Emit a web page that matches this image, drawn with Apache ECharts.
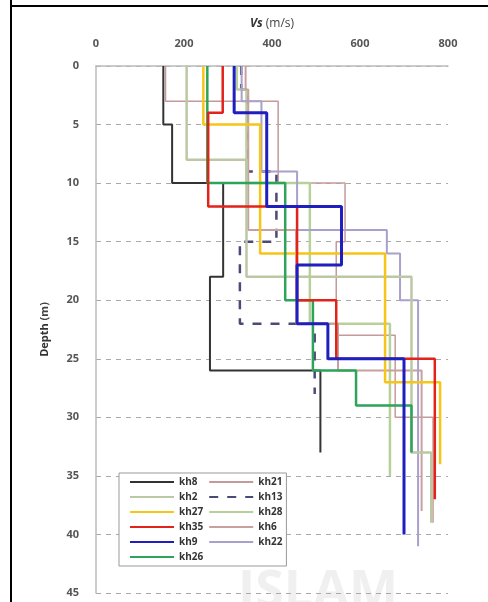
<!DOCTYPE html>
<html>
<head>
<meta charset="utf-8">
<script src="https://cdn.jsdelivr.net/npm/echarts@6/dist/echarts.min.js"></script>
<style>
  html, body { margin: 0; padding: 0; background: #fff; }
  #chart { width: 488px; height: 602px; }
</style>
</head>
<body>
<div id="chart"></div>
<script>
// Vs profiles: [Vs (m/s), depth (m)] step points
var kh8 = [[153, 0], [153, 5], [173, 5], [173, 10], [289, 10], [289, 18], [259, 18], [259, 26], [510, 26], [510, 33]];
var kh2 = [[206, 0], [206, 8], [342, 8], [342, 18], [717, 18], [717, 33], [762, 33], [762, 39]];
var kh27 = [[244, 0], [244, 5], [373, 5], [373, 16], [657, 16], [657, 27], [782, 27], [782, 34]];
var kh35 = [[288, 0], [288, 4], [255, 4], [255, 12], [457, 12], [457, 20], [546, 20], [546, 25], [770, 25], [770, 37]];
var kh9 = [[314, 0], [314, 4], [388, 4], [388, 12], [558, 12], [558, 17], [457, 17], [457, 22], [527, 22], [527, 25], [700, 25], [700, 40]];
var kh26 = [[253, 0], [253, 10], [430, 10], [430, 20], [493, 20], [493, 26], [591, 26], [591, 29], [717, 29], [717, 33]];
var kh21 = [[158, 0], [158, 3], [414, 3], [414, 10], [566, 10], [566, 15], [546, 15], [546, 23], [680, 23], [680, 30], [766, 30], [766, 39]];
var kh13 = [[330, 0], [330, 2], [345, 2], [345, 9], [410, 9], [410, 15], [327, 15], [327, 22], [497, 22], [497, 28]];
var kh28 = [[320, 0], [320, 2], [342, 2], [342, 10], [486, 10], [486, 22], [668, 22], [668, 35]];
var kh6 = [[340, 0], [340, 2], [346, 2], [346, 14], [455, 14], [455, 22], [550, 22], [550, 26], [740, 26], [740, 38]];
var kh22 = [[331, 0], [331, 3], [376, 3], [376, 9], [457, 9], [457, 14], [661, 14], [661, 16], [691, 16], [691, 20], [732, 20], [732, 41]];

var names = ["kh8", "kh2", "kh27", "kh35", "kh9", "kh26", "kh21", "kh13", "kh28", "kh6", "kh22"];
var profiles = [kh8, kh2, kh27, kh35, kh9, kh26, kh21, kh13, kh28, kh6, kh22];
var colors = ["#333333", "#bcc8a4", "#f5c518", "#e2231a", "#1f1fbf", "#2ea35a", "#c49a9a", "#4a4a78", "#b8d19a", "#c9a0a0", "#a9a0cc"];
var widths = [2, 2.5, 2.5, 2.5, 3, 2.5, 1.5, 2.5, 2.5, 2, 2];

var font = "'Open Sans', 'Liberation Sans', sans-serif";
var myChart = echarts.init(document.getElementById("chart"));

var series = names.map(function (n, i) {
  return {
    name: n,
    type: "line",
    data: profiles[i],
    symbol: "none",
    z: 10 - (i > 5 ? 5 : 0) + (n === "kh9" || n === "kh35" ? 2 : 0),
    lineStyle: {
      color: colors[i],
      width: widths[i],
      type: n === "kh13" ? [9, 9] : "solid",
    },
    itemStyle: { color: colors[i] },
  };
});

var option = {
  animation: false,
  backgroundColor: "#fff",
  grid: { left: 96, top: 66, right: 40, bottom: 9 },
  legend: {
    data: names,
    orient: "vertical",
    left: 119,
    top: 473,
    height: 90,
    padding: [4, 4, 4, 10],
    itemWidth: 44,
    itemHeight: 10,
    itemGap: 5,
    itemStyle: { opacity: 0 },
    backgroundColor: "#fff",
    borderColor: "#999",
    borderWidth: 1,
    textStyle: { fontFamily: font, fontSize: 10, fontWeight: "bold", color: "#333", width: 35 },
  },
  xAxis: {
    type: "value",
    position: "top",
    min: 0,
    max: 800,
    interval: 200,
    name: "{b|Vs} (m/s)",
    nameLocation: "middle",
    nameGap: 36,
    nameTextStyle: {
      fontFamily: font,
      fontSize: 12,
      color: "#444",
      rich: { b: { fontFamily: font, fontSize: 12, fontWeight: "bold", fontStyle: "italic", color: "#333" } },
    },
    axisLine: { show: true, lineStyle: { color: "#bbb", width: 1.5 } },
    axisTick: { show: false },
    splitLine: { show: false },
    axisLabel: { fontFamily: font, fontSize: 11, fontWeight: "bold", color: "#555", margin: 17 },
  },
  yAxis: {
    type: "value",
    inverse: true,
    min: 0,
    max: 45,
    interval: 5,
    name: "Depth {n|(m)}",
    nameLocation: "middle",
    nameGap: 46,
    nameRotate: 90,
    nameTextStyle: {
      fontFamily: font,
      fontSize: 11,
      fontWeight: "bold",
      color: "#333",
      rich: { n: { fontFamily: font, fontSize: 11, color: "#444" } },
    },
    axisLine: { show: true, lineStyle: { color: "#bbb", width: 1.5 } },
    axisTick: { show: false },
    splitLine: { show: true, lineStyle: { color: "#aaa", type: [5, 5], width: 1 } },
    axisLabel: { fontFamily: font, fontSize: 11, fontWeight: "bold", color: "#555", margin: 17 },
  },
  graphic: [
    { type: "text", left: 238, top: 566, z: 0, style: { text: "ISLAM", fontSize: 52, fontWeight: "bold", fontFamily: font, fill: "#f0f0f0" } },
    { type: "line", z: 100, shape: { x1: 11, y1: 0, x2: 11, y2: 602 }, style: { stroke: "#000", lineWidth: 2 } },
    { type: "line", z: 100, shape: { x1: 10, y1: 6, x2: 488, y2: 6 }, style: { stroke: "#000", lineWidth: 2 } },
  ],
  series: series,
};
myChart.setOption(option);
</script>
</body>
</html>
